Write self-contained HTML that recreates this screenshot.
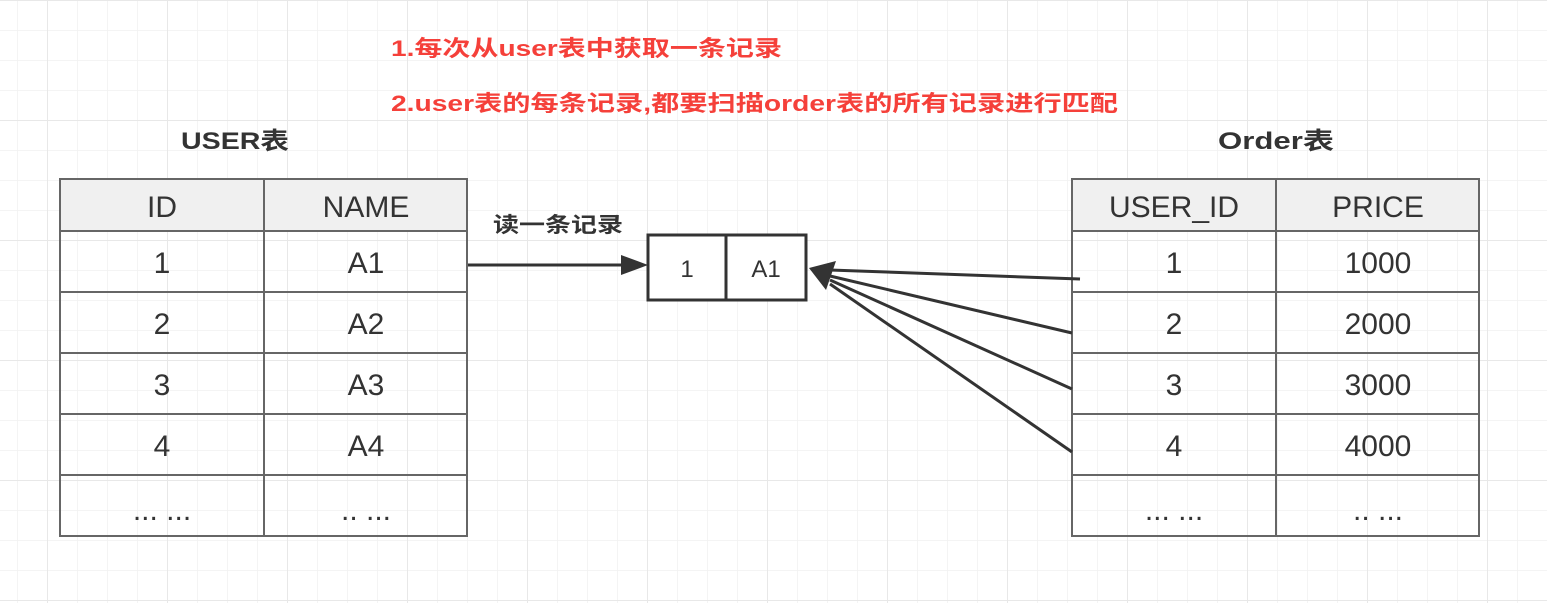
<!DOCTYPE html>
<html><head><meta charset="utf-8"><style>
html,body{margin:0;padding:0;background:#fff;}
svg{display:block;}
text{font-family:"Liberation Sans","Noto Sans CJK SC",sans-serif;}
</style></head><body>
<svg width="1547" height="603" viewBox="0 0 1547 603" xmlns="http://www.w3.org/2000/svg">
<defs>
<pattern id="minor" x="17" y="0" width="30" height="30" patternUnits="userSpaceOnUse">
<path d="M0 0H30M0 0V30" stroke="#f1f1f1" stroke-width="1.5" fill="none"/>
</pattern>
<pattern id="major" x="47" y="0" width="120" height="120" patternUnits="userSpaceOnUse">
<path d="M0 0H120M0 0V120" stroke="#e8e8e8" stroke-width="2" fill="none"/>
</pattern>
</defs>
<rect width="1547" height="603" fill="#fff"/>
<rect width="1547" height="603" fill="url(#minor)"/>
<rect width="1547" height="603" fill="url(#major)"/>

<g fill="#f5403a" font-weight="bold" font-size="22">
<text x="391" y="56" textLength="391" lengthAdjust="spacingAndGlyphs">1.每次从user表中获取一条记录</text>
<text x="391" y="111" textLength="727" lengthAdjust="spacingAndGlyphs">2.user表的每条记录,都要扫描order表的所有记录进行匹配</text>
</g>
<g fill="#333" font-weight="bold" font-size="24">
<text x="181" y="149" textLength="108" lengthAdjust="spacingAndGlyphs">USER表</text>
<text x="1218" y="149" textLength="116" lengthAdjust="spacingAndGlyphs">Order表</text>
</g>
<text x="493" y="232" fill="#333" font-weight="bold" font-size="21" textLength="130" lengthAdjust="spacingAndGlyphs">读一条记录</text>

<!-- left table -->
<g stroke="#666" stroke-width="2" fill="none">
<rect x="60" y="179" width="407" height="52" fill="#f0f0f0"/>
<rect x="60" y="179" width="407" height="357"/>
<path d="M264 179V536M60 231H467M60 292H467M60 353H467M60 414H467M60 475H467"/>
<rect x="1072" y="179" width="407" height="52" fill="#f0f0f0"/>
<rect x="1072" y="179" width="407" height="357"/>
<path d="M1276 179V536M1072 231H1479M1072 292H1479M1072 353H1479M1072 414H1479M1072 475H1479"/>
</g>
<g fill="#333" font-size="30" text-anchor="middle">
<text x="162" y="217">ID</text><text x="366" y="217">NAME</text>
<text x="162" y="273">1</text><text x="366" y="273">A1</text>
<text x="162" y="334">2</text><text x="366" y="334">A2</text>
<text x="162" y="395">3</text><text x="366" y="395">A3</text>
<text x="162" y="456">4</text><text x="366" y="456">A4</text>
<text x="162" y="520">... ...</text><text x="366" y="520">.. ...</text>
<text x="1174" y="217">USER_ID</text><text x="1378" y="217">PRICE</text>
<text x="1174" y="273">1</text><text x="1378" y="273">1000</text>
<text x="1174" y="334">2</text><text x="1378" y="334">2000</text>
<text x="1174" y="395">3</text><text x="1378" y="395">3000</text>
<text x="1174" y="456">4</text><text x="1378" y="456">4000</text>
<text x="1174" y="520">... ...</text><text x="1378" y="520">.. ...</text>
</g>

<!-- middle box -->
<g stroke="#333" stroke-width="3" fill="#fff">
<rect x="648" y="235" width="158" height="65"/>
<path d="M726 235V300"/>
</g>
<g fill="#333" font-size="24" text-anchor="middle">
<text x="687" y="277">1</text><text x="766" y="277">A1</text>
</g>

<!-- arrows -->
<g stroke="#333" stroke-width="3" fill="none">
<path d="M468 265H625"/>
<path d="M1080 279L830 270"/>
<path d="M1072 333L830 276"/>
<path d="M1072 389L830 280"/>
<path d="M1072 452L830 284"/>
</g>
<g fill="#333">
<path d="M648 265L621 255L621 275Z"/>
<path d="M809 268L836 261L826 290Z"/>
</g>
</svg>
</body></html>
